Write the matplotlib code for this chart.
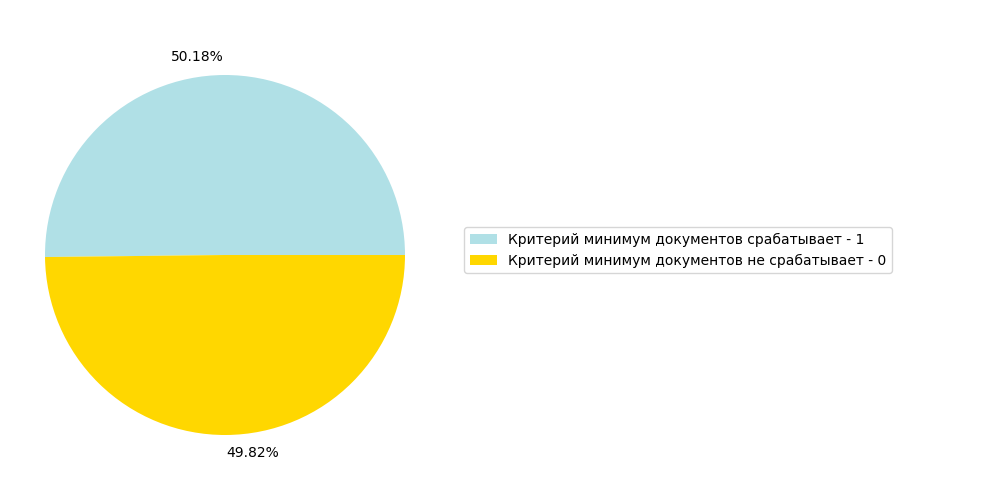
import matplotlib
matplotlib.use('Agg')
import matplotlib.pyplot as plt

# shares of each outcome, in percent
shares = [50.18, 49.82]
pct_labels = ['50.18%', '49.82%']
legend_labels = ['Критерий минимум документов срабатывает - 1',
                 'Критерий минимум документов не срабатывает - 0']
colors = ['powderblue', 'gold']

fig = plt.figure(figsize=(10, 5), dpi=100)
ax = fig.add_axes([0.0, 0.04, 0.45, 0.9])

wedges, texts = ax.pie(shares, labels=pct_labels, colors=colors, startangle=0)
ax.set_aspect('equal')

ax.legend(wedges, legend_labels, loc='center left', bbox_to_anchor=(1.0156, 0.511))

fig.savefig('out.png', dpi=100)
